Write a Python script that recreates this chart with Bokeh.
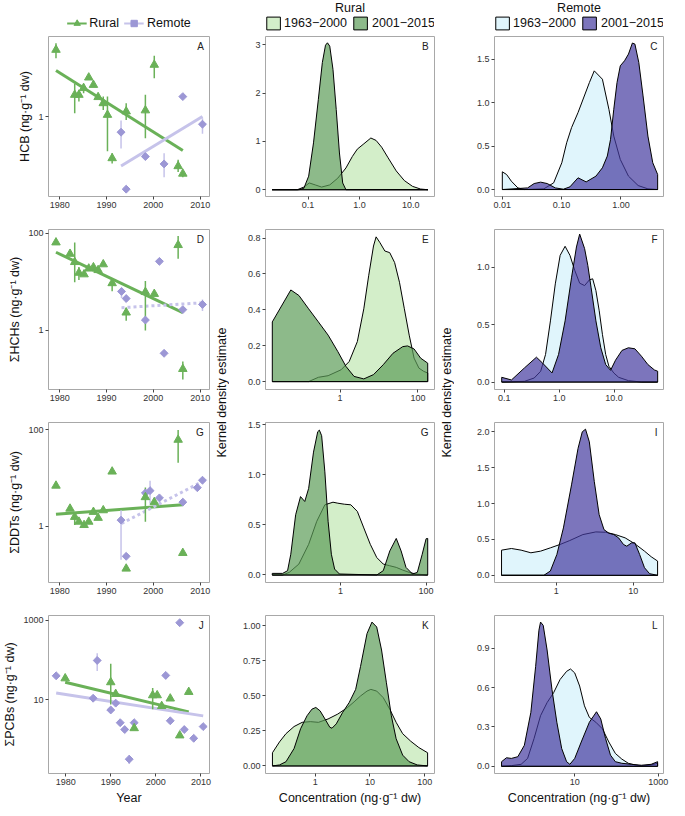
import numpy as np
from bokeh.plotting import figure
from bokeh.layouts import row, column
from bokeh.models import (Range1d, FixedTicker, PrintfTickFormatter, Legend,
                          LegendItem, Label)
from bokeh.embed import file_html
from bokeh.resources import INLINE
from bokeh.core.properties import value

# ======================= DATA =======================
year_ticks = [1980, 1990, 2000, 2010]

# ---- A: HCB ----
hcb_rural_year = [1979.2, 1983.2, 1984.1, 1985.1, 1986.2, 1987.2, 1988.2, 1989.3, 1990.2, 1991.2, 1994.2, 1998.3, 2000.2, 2005.3, 2006.3]
hcb_rural = [5.03, 1.69, 1.69, 1.99, 2.57, 2.15, 1.60, 1.38, 1.04, 0.364, 1.13, 1.16, 3.50, 0.30, 0.25]
hcb_rural_err_year = [1979.2, 1983.2, 1984.1, 1985.1, 1989.3, 1990.2, 1991.2, 1994.2, 1998.3, 2000.2, 2005.3, 2006.3]
hcb_rural_lo = [4.11, 1.08, 1.44, 1.76, 1.17, 0.43, 0.32, 0.92, 0.59, 2.53, 0.26, 0.23]
hcb_rural_hi = [5.90, 2.21, 1.91, 2.21, 1.62, 1.62, 0.41, 1.38, 1.69, 4.35, 0.35, 0.26]
hcb_remote_year = [1993.1, 1994.2, 1998.3, 2002.3, 2006.3, 2010.5]
hcb_remote = [0.684, 0.172, 0.379, 0.317, 1.62, 0.83]
hcb_remote_err_year = [1993.1, 2002.3, 2010.5]
hcb_remote_lo = [0.46, 0.23, 0.66]
hcb_remote_hi = [0.91, 0.41, 0.96]
hcb_trend_rural_year = [1979.2, 2006.3]
hcb_trend_rural = [3.05, 0.44]
hcb_trend_remote_year = [1993.1, 2010.5]
hcb_trend_remote = [0.302, 1.0]

# ---- D: HCHs ----
hch_rural_year = [1979.2, 1982.2, 1983.2, 1984.1, 1985.2, 1986.2, 1987.2, 1988.2, 1989.3, 1991.2, 1994.2, 1998.3, 2000.2, 2005.3, 2006.3]
hch_rural = [64.9, 37.8, 25.6, 15.4, 14.3, 18.8, 20.0, 17.5, 23.0, 9.4, 2.34, 6.2, 5.65, 57.3, 0.161]
hch_rural_err_year = [1983.2, 1984.1, 1991.2, 1994.2, 1998.3, 2005.3, 2006.3]
hch_rural_lo = [9.8, 11.0, 6.4, 1.59, 1.0, 30.0, 0.098]
hch_rural_hi = [65.0, 20.4, 11.9, 2.95, 10.5, 88.0, 0.23]
hch_remote_year = [1993.2, 1994.2, 1998.3, 2001.3, 2002.3, 2006.3, 2010.5]
hch_remote = [6.38, 4.55, 1.64, 26.5, 0.339, 2.69, 3.44]
hch_remote_err_year = [1993.2, 2010.5]
hch_remote_lo = [4.69, 2.53]
hch_remote_hi = [7.45, 4.35]
hch_trend_rural_year = [1979.2, 2006.3]
hch_trend_rural = [40.8, 2.34]
hch_trend_remote_year = [1993.2, 2010.5]
hch_trend_remote = [2.95, 3.72]

# ---- G: DDTs ----
ddt_rural_year = [1979.2, 1982.2, 1983.2, 1984.1, 1985.2, 1986.2, 1987.2, 1988.2, 1989.3, 1991.2, 1994.2, 1998.3, 2000.2, 2005.3, 2006.3]
ddt_rural = [6.92, 2.30, 1.55, 1.23, 1.05, 1.23, 1.97, 1.48, 2.13, 13.6, 0.130, 3.99, 3.15, 62.4, 0.275]
ddt_rural_err_year = [1983.2, 1998.3, 2005.3]
ddt_rural_lo = [1.05, 1.23, 20.8]
ddt_rural_hi = [1.97, 6.38, 100.0]
ddt_remote_year = [1993.1, 1994.2, 1998.3, 1999.3, 2001.3, 2006.3, 2009.4, 2010.5]
ddt_remote = [1.33, 0.235, 4.89, 5.46, 3.86, 3.15, 6.30, 9.00]
ddt_remote_err_year = [1993.1, 1999.3]
ddt_remote_lo = [0.20, 2.91]
ddt_remote_hi = [2.13, 8.75]
ddt_trend_rural_year = [1979.2, 2006.3]
ddt_trend_rural = [1.76, 2.78]
ddt_trend_remote_year = [1993.2, 2010.5]
ddt_trend_remote = [1.13, 8.47]

# ---- J: PCBs ----
pcb_rural_year = [1979.9, 1990.0, 1991.1, 1995.2, 1999.3, 2000.3, 2001.3, 2003.2, 2005.3, 2007.3]
pcb_rural = [34.1, 27.2, 13.8, 1.90, 12.8, 12.8, 6.86, 10.6, 1.25, 15.5]
pcb_rural_err_year = [1990.0, 1999.3]
pcb_rural_lo = [7.5, 5.68]
pcb_rural_hi = [79.8, 19.4]
pcb_remote_year = [1977.9, 1986.1, 1987.0, 1990.0, 1991.1, 1992.1, 1993.1, 1994.1, 1995.2, 2002.2, 2003.2, 2005.3, 2006.3, 2008.4, 2010.5]
pcb_remote = [39.6, 10.8, 96.4, 5.47, 8.13, 2.62, 1.76, 0.316, 2.62, 40.5, 2.93, 859, 1.76, 1.06, 2.09]
pcb_remote_err_year = [1987.0, 1994.1]
pcb_remote_lo = [52.6, 0.238]
pcb_remote_hi = [146.0, 0.405]
pcb_trend_rural_year = [1979.9, 2007.3]
pcb_trend_rural = [27.2, 4.89]
pcb_trend_remote_year = [1977.9, 2010.5]
pcb_trend_remote = [14.6, 3.89]

# ---- density curves (concentration, kernel density estimate) ----
# B: HCB rural
hcb_rural_old_conc = [0.020, 0.062, 0.083, 0.106, 0.138, 0.184, 0.265, 0.380, 0.547, 0.731, 0.910, 1.22, 1.67, 2.11, 2.71, 3.62, 5.20, 7.48, 10.8, 15.5, 21.6]
hcb_rural_old_dens = [0, 0, 0.055, 0.14, 0.10, 0.055, 0.10, 0.24, 0.45, 0.69, 0.84, 0.95, 1.07, 1.02, 0.88, 0.66, 0.39, 0.19, 0.07, 0.014, 0]
hcb_rural_new_conc = [0.020, 0.067, 0.083, 0.103, 0.128, 0.159, 0.190, 0.219, 0.239, 0.265, 0.306, 0.354, 0.409, 0.473, 0.547, 21.6]
hcb_rural_new_dens = [0, 0, 0.03, 0.28, 0.97, 1.87, 2.63, 2.99, 3.04, 2.97, 2.49, 1.66, 0.76, 0.14, 0, 0]
# C: HCB remote
hcb_remote_old_conc = [0.0100, 0.0118, 0.0142, 0.0183, 0.0236, 0.0502, 0.0734, 0.1007, 0.1216, 0.147, 0.189, 0.294, 0.355, 0.487, 0.627, 0.757, 0.975, 1.34, 1.95, 2.85, 4.16]
hcb_remote_old_dens = [0.204, 0.173, 0.096, 0.019, 0, 0.008, 0.077, 0.308, 0.538, 0.712, 0.885, 1.231, 1.365, 1.269, 0.923, 0.615, 0.346, 0.154, 0.046, 0.008, 0]
hcb_remote_new_conc = [0.0100, 0.0267, 0.0344, 0.0443, 0.0571, 0.0782, 0.107, 0.138, 0.189, 0.259, 0.379, 0.487, 0.589, 0.668, 0.757, 0.859, 0.975, 1.15, 1.34, 1.56, 1.72, 2.00, 2.36, 2.85, 3.44, 4.16]
hcb_remote_new_dens = [0, 0.019, 0.069, 0.085, 0.069, 0.019, 0.004, 0.031, 0.135, 0.088, 0.154, 0.25, 0.385, 0.577, 0.923, 1.231, 1.423, 1.481, 1.558, 1.685, 1.673, 1.462, 1.077, 0.615, 0.308, 0.173]
# E: HCHs rural
hch_rural_old_conc = [0.0181, 0.155, 0.276, 0.492, 1.06, 1.71, 2.77, 4.06, 5.41, 7.21, 8.41, 10.6, 14.1, 18.8, 25.1, 33.5, 44.7, 59.6, 79.4, 106, 141, 178]
hch_rural_old_dens = [0, 0, 0.024, 0.033, 0.066, 0.112, 0.223, 0.406, 0.590, 0.756, 0.807, 0.774, 0.728, 0.719, 0.664, 0.554, 0.406, 0.259, 0.131, 0.075, 0.057, 0.048]
hch_rural_new_conc = [0.0181, 0.0541, 0.0874, 0.155, 0.276, 0.492, 0.875, 1.41, 2.28, 4.06, 7.21, 12.8, 22.8, 40.6, 54.1, 79.4, 117, 178]
hch_rural_new_dens = [0.333, 0.511, 0.480, 0.406, 0.333, 0.259, 0.167, 0.085, 0.029, 0.015, 0.039, 0.094, 0.158, 0.195, 0.199, 0.182, 0.131, 0.103]
# F: HCHs remote
hch_remote_old_conc = [0.0897, 0.233, 0.350, 0.460, 0.564, 0.692, 0.849, 1.04, 1.28, 1.57, 1.92, 2.36, 2.90, 3.55, 4.07, 4.66, 5.35, 6.12, 7.02, 8.04, 9.86, 12.1, 18.2, 31.4, 62.1]
hch_remote_old_dens = [0, 0.006, 0.035, 0.094, 0.240, 0.532, 0.854, 1.102, 1.181, 1.102, 0.971, 0.860, 0.839, 0.889, 0.898, 0.795, 0.620, 0.415, 0.240, 0.137, 0.079, 0.041, 0.012, 0, 0]
hch_remote_new_conc = [0.0897, 0.135, 0.233, 0.385, 0.492, 0.741, 0.973, 1.28, 1.68, 2.06, 2.36, 2.90, 3.32, 3.80, 4.66, 5.72, 7.02, 8.61, 10.6, 13.9, 18.2, 23.9, 31.4, 41.2, 54.2, 62.1]
hch_remote_new_dens = [0.041, 0.018, 0.123, 0.216, 0.167, 0.079, 0.240, 0.532, 0.912, 1.175, 1.287, 1.161, 1.015, 0.825, 0.532, 0.298, 0.152, 0.102, 0.190, 0.275, 0.298, 0.289, 0.225, 0.152, 0.105, 0.094]
# H: DDTs rural
ddt_rural_old_conc = [0.0256, 0.0448, 0.0636, 0.107, 0.181, 0.280, 0.433, 0.670, 0.870, 1.23, 1.75, 2.48, 3.51, 4.98, 7.05, 10.0, 14.2, 20.1, 28.5, 40.4, 57.3, 109]
ddt_rural_old_dens = [0, 0, 0.026, 0.109, 0.306, 0.536, 0.701, 0.727, 0.717, 0.707, 0.701, 0.635, 0.470, 0.306, 0.174, 0.109, 0.092, 0.076, 0.049, 0.026, 0.010, 0]
ddt_rural_new_conc = [0.0256, 0.0448, 0.0583, 0.0693, 0.0901, 0.117, 0.147, 0.181, 0.235, 0.295, 0.322, 0.364, 0.433, 0.515, 0.614, 0.731, 0.949, 7.05, 10.0, 14.2, 20.1, 26.1, 33.9, 48.1, 62.4, 81.1, 100, 109]
ddt_rural_new_dens = [0.016, 0.016, 0.043, 0.207, 0.602, 0.783, 0.734, 0.865, 1.227, 1.431, 1.447, 1.391, 1.030, 0.536, 0.207, 0.059, 0.010, 0, 0.043, 0.240, 0.365, 0.240, 0.076, 0.010, 0.026, 0.207, 0.362, 0.365]
# I: DDTs remote
ddt_remote_old_conc = [0.195, 0.262, 0.350, 0.469, 0.627, 0.839, 1.12, 1.50, 2.22, 3.27, 4.38, 5.86, 7.85, 10.5, 14.0, 17.1, 20.7]
ddt_remote_old_dens = [0.351, 0.374, 0.351, 0.314, 0.337, 0.383, 0.430, 0.485, 0.568, 0.605, 0.600, 0.568, 0.522, 0.439, 0.337, 0.259, 0.199]
ddt_remote_new_conc = [0.195, 0.691, 0.839, 1.02, 1.24, 1.58, 1.92, 2.18, 2.40, 2.69, 3.12, 3.61, 4.17, 4.83, 5.58, 6.46, 7.47, 8.24, 9.53, 10.5, 12.1, 14.0, 16.3, 20.7]
ddt_remote_new_dens = [0, 0, 0.060, 0.291, 0.661, 1.261, 1.769, 2.0, 2.037, 1.861, 1.307, 0.845, 0.637, 0.587, 0.568, 0.522, 0.430, 0.406, 0.453, 0.453, 0.291, 0.106, 0.023, 0]
# K: PCBs rural
pcb_rural_old_conc = [0.166, 0.223, 0.293, 0.412, 0.580, 0.815, 1.15, 1.72, 2.59, 3.91, 5.13, 6.74, 8.85, 10.4, 13.3, 17.5, 23.0, 30.1, 39.6, 55.7, 78.2, 113]
pcb_rural_old_dens = [0.094, 0.171, 0.230, 0.281, 0.311, 0.316, 0.311, 0.335, 0.370, 0.417, 0.457, 0.499, 0.534, 0.546, 0.534, 0.487, 0.405, 0.311, 0.230, 0.176, 0.131, 0.094]
pcb_rural_new_conc = [0.166, 0.223, 0.293, 0.412, 0.542, 0.711, 0.873, 1.03, 1.23, 1.51, 1.85, 2.03, 2.43, 3.18, 4.18, 5.49, 6.74, 8.85, 10.9, 13.3, 16.3, 20.0, 24.6, 30.1, 39.6, 52.0, 73.1, 113]
pcb_rural_new_dens = [0, 0.007, 0.030, 0.124, 0.265, 0.358, 0.405, 0.417, 0.393, 0.335, 0.276, 0.269, 0.300, 0.382, 0.452, 0.546, 0.710, 0.944, 1.026, 0.991, 0.827, 0.593, 0.358, 0.194, 0.077, 0.030, 0.007, 0]
# L: PCBs remote
pcb_remote_old_conc = [0.177, 0.304, 0.520, 0.744, 1.06, 1.52, 2.18, 3.12, 4.46, 6.39, 7.92, 10.0, 13.1, 17.1, 22.4, 32.0, 45.9, 65.6, 93.9, 134, 192, 275, 394, 674, 964]
pcb_remote_old_dens = [0, 0.005, 0.015, 0.060, 0.211, 0.386, 0.486, 0.561, 0.662, 0.724, 0.742, 0.712, 0.612, 0.461, 0.373, 0.336, 0.286, 0.185, 0.098, 0.055, 0.023, 0.010, 0.003, 0.010, 0.023]
pcb_remote_new_conc = [0.177, 0.232, 0.304, 0.434, 0.622, 0.890, 1.16, 1.39, 1.52, 1.76, 2.18, 2.85, 3.73, 4.88, 6.39, 7.64, 10.0, 14.3, 22.4, 33.2, 42.0, 54.8, 71.8, 93.9, 134, 230, 394, 674, 964]
pcb_remote_new_dens = [0.035, 0.065, 0.060, 0.073, 0.160, 0.411, 0.762, 1.038, 1.100, 1.075, 0.887, 0.586, 0.336, 0.135, 0.035, 0.015, 0.060, 0.185, 0.336, 0.416, 0.361, 0.211, 0.085, 0.035, 0.023, 0.015, 0.008, 0.015, 0.035]

period_labels = ["1963\u22122000", "2001\u22122015"]
site_labels = ["Rural", "Remote"]

# ======================= STYLE =======================
FONT = "Liberation Sans"
TICK_FS = "9px"
LAB_FS = "12.5px"
RURAL_C = "#6ab158"
REMOTE_C = "#9c97d5"
REMOTE_L = "#c6c3ea"
RURAL_FILLS = ["#c1e7b2", "#5d9c59"]
REMOTE_FILLS = ["#d3f1fb", "#443a9f"]

FW, FH = 169, 160
HDR = 31
TOPS = [5, 9, 9, 9]
BOTS = [24, 24, 24, 32]
SL, SR = 40, 4          # scatter column borders
DL2, DR2 = 36, 4        # rural density column borders
DL3, DR3 = 40, 6        # remote density column borders
KW = 16                 # width of the shared y-label strip
COL_H = HDR + sum(TOPS) + 4 * FH + sum(BOTS)
NAN = [float("nan")]    # legend-only renderers carry no visible data


def style(p):
    p.outline_line_color = "#a8a8a8"
    p.outline_line_width = 1
    p.grid.grid_line_color = None
    p.background_fill_color = "white"
    p.border_fill_color = "white"
    for ax in p.axis:
        ax.axis_line_color = None
        ax.major_tick_line_color = "#444444"
        ax.major_tick_in = 0
        ax.major_tick_out = 3
        ax.minor_tick_line_color = None
        ax.major_label_text_font = FONT
        ax.major_label_text_font_size = TICK_FS
        ax.major_label_text_color = "#333333"
        ax.major_label_standoff = 2
        ax.axis_label_text_font = FONT
        ax.axis_label_text_font_size = LAB_FS
        ax.axis_label_text_font_style = "normal"
        ax.axis_label_text_color = "#111111"
        ax.axis_label_standoff = 3


def blank(width, height, left, right):
    p = figure(width=width, height=height, x_range=Range1d(0, 1), y_range=Range1d(0, 1),
               output_backend="svg", toolbar_location=None,
               min_border_left=left, min_border_right=right,
               min_border_top=0, min_border_bottom=0,
               x_axis_location=None, y_axis_location=None)
    p.outline_line_color = None
    p.grid.visible = False
    p.background_fill_color = "white"
    p.border_fill_color = "white"
    return p


def make_legend(items, glyph_w):
    return Legend(items=items, orientation="horizontal", location="bottom_center",
                  glyph_width=glyph_w, glyph_height=16, label_standoff=3, spacing=5,
                  padding=0, margin=0, border_line_color=None, background_fill_alpha=0,
                  label_text_font=FONT, label_text_font_size=LAB_FS,
                  label_text_color="#111111", label_height=16)


def header_scatter():
    p = blank(SL + FW + SR, HDR, SL, SR)
    lr = p.line(x=NAN, y=NAN, line_color=RURAL_C, line_width=2)
    sr = p.scatter(x=NAN, y=NAN, marker="triangle", size=8.5, fill_color=RURAL_C, line_color=RURAL_C)
    lm = p.line(x=NAN, y=NAN, line_color=REMOTE_L, line_width=2)
    sm = p.scatter(x=NAN, y=NAN, marker="square", angle=np.pi / 4, size=5.6,
                   fill_color=REMOTE_C, line_color=REMOTE_C)
    p.add_layout(make_legend([LegendItem(label=site_labels[0], renderers=[lr, sr]),
                              LegendItem(label=site_labels[1], renderers=[lm, sm])], 20))
    return p


def header_density(title, fills, dl, dr):
    p = blank(dl + FW + dr, HDR, dl, dr)
    rs = [p.patch(x=NAN, y=NAN, fill_color=fc, fill_alpha=0.7, line_color="black", line_width=1)
          for fc in fills]
    p.add_layout(make_legend([LegendItem(label=period_labels[0], renderers=[rs[0]]),
                              LegendItem(label=period_labels[1], renderers=[rs[1]])], 17))
    p.text(x=[0.5], y=[1.0], text=[title], text_align="center", text_baseline="top",
           text_font=value(FONT), text_font_size=LAB_FS, text_color="#111111")
    return p


def add_letter(p, letter, xr, yr, xlog, ylog):
    def at(lo, hi, frac, log):
        if log:
            a, b = np.log10(lo), np.log10(hi)
            return 10 ** (b - frac * (b - a))
        return hi - frac * (hi - lo)
    p.add_layout(Label(x=at(*xr, 0.035, xlog), y=at(*yr, 0.03, ylog), text=letter,
                       text_align="right", text_baseline="top",
                       text_font=FONT, text_font_size="10px", text_color="#222222"))


def scatter_panel(r, xr, yr, yticks, ylabel, letter, rural, rural_err, remote, remote_err,
                  trend_rural, trend_remote, remote_dash, xlabel=None):
    p = figure(width=SL + FW + SR, height=TOPS[r] + FH + BOTS[r], y_axis_type="log",
               x_range=Range1d(*xr), y_range=Range1d(*yr),
               output_backend="svg", toolbar_location=None,
               min_border_left=SL, min_border_right=SR,
               min_border_top=TOPS[r], min_border_bottom=BOTS[r])
    p.line(trend_rural[0], trend_rural[1], line_color=RURAL_C, line_width=3)
    p.line(trend_remote[0], trend_remote[1], line_color=REMOTE_L, line_width=3,
           line_dash="3 3" if remote_dash else "solid")
    p.segment(x0=remote_err[0], y0=remote_err[1], x1=remote_err[0], y1=remote_err[2],
              line_color=REMOTE_L, line_width=1.5)
    p.segment(x0=rural_err[0], y0=rural_err[1], x1=rural_err[0], y1=rural_err[2],
              line_color=RURAL_C, line_width=1.5)
    p.scatter(remote[0], remote[1], marker="square", angle=np.pi / 4, size=5.6,
              fill_color=REMOTE_C, line_color=REMOTE_C)
    p.scatter(rural[0], rural[1], marker="triangle", size=8.5,
              fill_color=RURAL_C, line_color=RURAL_C)
    style(p)
    p.xaxis.ticker = FixedTicker(ticks=year_ticks)
    p.yaxis.ticker = FixedTicker(ticks=yticks)
    p.yaxis.formatter = PrintfTickFormatter(format="%g")
    p.yaxis.axis_label = ylabel
    if xlabel:
        p.xaxis.axis_label = xlabel
    add_letter(p, letter, xr, yr, False, True)
    return p


def dens_panel(r, dl, dr, xr, yr, xticks, xfmt, yticks, yfmt, old, new, fills, letter, xlabel=None):
    p = figure(width=dl + FW + dr, height=TOPS[r] + FH + BOTS[r], x_axis_type="log",
               x_range=Range1d(*xr), y_range=Range1d(*yr),
               output_backend="svg", toolbar_location=None,
               min_border_left=dl, min_border_right=dr,
               min_border_top=TOPS[r], min_border_bottom=BOTS[r])
    for (cx, cy), fc in zip([old, new], fills):
        xs = list(cx) + [cx[-1], cx[0]]
        ys = list(cy) + [0, 0]
        p.patch(xs, ys, fill_color=fc, fill_alpha=0.7, line_color="black",
                line_width=1, line_join="round")
    style(p)
    p.xaxis.ticker = FixedTicker(ticks=xticks)
    p.xaxis.formatter = PrintfTickFormatter(format=xfmt)
    p.yaxis.ticker = FixedTicker(ticks=yticks)
    p.yaxis.formatter = PrintfTickFormatter(format=yfmt)
    if xlabel:
        p.xaxis.axis_label = xlabel
    add_letter(p, letter, xr, yr, True, False)
    return p


def kde_strip():
    p = figure(width=KW, height=COL_H, x_range=Range1d(0, 1), y_range=Range1d(0, COL_H),
               output_backend="svg", toolbar_location=None,
               min_border_left=0, min_border_right=0, min_border_top=0, min_border_bottom=0,
               x_axis_location=None, y_axis_location=None)
    p.outline_line_color = None
    p.grid.visible = False
    p.text(x=[0.55], y=[COL_H - 392], text=["Kernel density estimate"], angle=np.pi / 2,
           text_align="center", text_baseline="middle",
           text_font=value(FONT), text_font_size=LAB_FS, text_color="#111111")
    return p


UNIT = "(ng\u00b7g\u207b\u00b9 dw)"
XR_A = (1977.6, 2012.0)
XR_J = (1976.2, 2011.9)

pA = scatter_panel(0, XR_A, (0.144, 6.95), [1], "HCB " + UNIT, "A",
                   (hcb_rural_year, hcb_rural), (hcb_rural_err_year, hcb_rural_lo, hcb_rural_hi),
                   (hcb_remote_year, hcb_remote), (hcb_remote_err_year, hcb_remote_lo, hcb_remote_hi),
                   (hcb_trend_rural_year, hcb_trend_rural), (hcb_trend_remote_year, hcb_trend_remote),
                   False)
pD = scatter_panel(1, XR_A, (0.061, 120), [1, 100], "\u03a3HCHs " + UNIT, "D",
                   (hch_rural_year, hch_rural), (hch_rural_err_year, hch_rural_lo, hch_rural_hi),
                   (hch_remote_year, hch_remote), (hch_remote_err_year, hch_remote_lo, hch_remote_hi),
                   (hch_trend_rural_year, hch_trend_rural), (hch_trend_remote_year, hch_trend_remote),
                   True)
pG = scatter_panel(2, XR_A, (0.067, 143), [1, 100], "\u03a3DDTs " + UNIT, "G",
                   (ddt_rural_year, ddt_rural), (ddt_rural_err_year, ddt_rural_lo, ddt_rural_hi),
                   (ddt_remote_year, ddt_remote), (ddt_remote_err_year, ddt_remote_lo, ddt_remote_hi),
                   (ddt_trend_rural_year, ddt_trend_rural), (ddt_trend_remote_year, ddt_trend_remote),
                   True)
pJ = scatter_panel(3, XR_J, (0.138, 1303), [10, 1000], "\u03a3PCBs " + UNIT, "J",
                   (pcb_rural_year, pcb_rural), (pcb_rural_err_year, pcb_rural_lo, pcb_rural_hi),
                   (pcb_remote_year, pcb_remote), (pcb_remote_err_year, pcb_remote_lo, pcb_remote_hi),
                   (pcb_trend_rural_year, pcb_trend_rural), (pcb_trend_remote_year, pcb_trend_remote),
                   False, xlabel="Year")

XLAB = "Concentration " + UNIT
pB = dens_panel(0, DL2, DR2, (0.0149, 28.9), (-0.14, 3.17), [0.1, 1, 10], "%.1f", [0, 1, 2, 3], "%g",
                (hcb_rural_old_conc, hcb_rural_old_dens), (hcb_rural_new_conc, hcb_rural_new_dens),
                RURAL_FILLS, "B")
pE = dens_panel(1, DL2, DR2, (0.0121, 266), (-0.044, 0.848), [1, 100], "%g", [0, 0.2, 0.4, 0.6, 0.8], "%.1f",
                (hch_rural_old_conc, hch_rural_old_dens), (hch_rural_new_conc, hch_rural_new_dens),
                RURAL_FILLS, "E")
pH = dens_panel(2, DL2, DR2, (0.0178, 157), (-0.075, 1.523), [1, 100], "%g", [0, 0.5, 1, 1.5], "%.1f",
                (ddt_rural_old_conc, ddt_rural_old_dens), (ddt_rural_new_conc, ddt_rural_new_dens),
                RURAL_FILLS, "G")
pK = dens_panel(3, DL2, DR2, (0.124, 151), (-0.054, 1.073), [1, 10, 100], "%g", [0, 0.25, 0.5, 0.75, 1.0], "%.2f",
                (pcb_rural_old_conc, pcb_rural_old_dens), (pcb_rural_new_conc, pcb_rural_new_dens),
                RURAL_FILLS, "K", xlabel=XLAB)

pC = dens_panel(0, DL3, DR3, (0.00738, 5.22), (-0.08, 1.76), [0.01, 0.1, 1], "%.2f", [0, 0.5, 1.0, 1.5], "%.1f",
                (hcb_remote_old_conc, hcb_remote_old_dens), (hcb_remote_new_conc, hcb_remote_new_dens),
                REMOTE_FILLS, "C")
pF = dens_panel(1, DL3, DR3, (0.0663, 79.3), (-0.065, 1.327), [0.1, 1, 10], "%.1f", [0, 0.5, 1.0], "%.1f",
                (hch_remote_old_conc, hch_remote_old_dens), (hch_remote_new_conc, hch_remote_new_dens),
                REMOTE_FILLS, "F")
pI = dens_panel(2, DL3, DR3, (0.158, 24.7), (-0.1, 2.13), [1, 10], "%g", [0, 0.5, 1.0, 1.5, 2.0], "%.1f",
                (ddt_remote_old_conc, ddt_remote_old_dens), (ddt_remote_new_conc, ddt_remote_new_dens),
                REMOTE_FILLS, "I")
pL = dens_panel(3, DL3, DR3, (0.120, 1334), (-0.055, 1.15), [10, 1000], "%g", [0, 0.3, 0.6, 0.9], "%.1f",
                (pcb_remote_old_conc, pcb_remote_old_dens), (pcb_remote_new_conc, pcb_remote_new_dens),
                REMOTE_FILLS, "L", xlabel=XLAB)

layout = row(
    column(header_scatter(), pA, pD, pG, pJ),
    row(kde_strip(), column(header_density(site_labels[0], RURAL_FILLS, DL2, DR2), pB, pE, pH, pK)),
    row(kde_strip(), column(header_density(site_labels[1], REMOTE_FILLS, DL3, DR3), pC, pF, pI, pL)),
)

open("out.html", "w").write(file_html(layout, INLINE))
